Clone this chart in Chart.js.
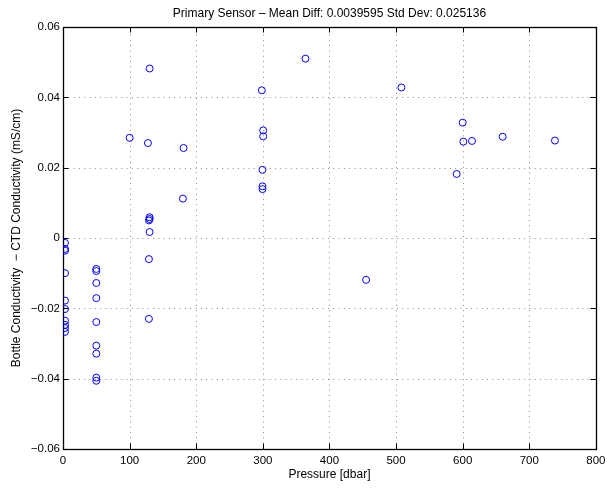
<!DOCTYPE html>
<html>
<head>
<meta charset="utf-8">
<script src="https://cdn.jsdelivr.net/npm/chart.js@4.4.0/dist/chart.umd.min.js"></script>
<style>
  html, body { margin: 0; padding: 0; background: #fff; }
  #wrap { width: 610px; height: 488px; }
</style>
</head>
<body>
<div id="wrap"><canvas id="c" width="610" height="488"></canvas></div>
<script>
// ---- data ----
const pressure = [
  3, 3, 3, 3, 3, 3, 3, 3, 3, 3,
  50, 50, 50, 50, 50, 50, 50, 50, 50,
  130, 127.5, 130, 130, 129, 130, 129, 129,
  100, 181, 180,
  298.5, 300.5, 300.5, 299.5, 299.5, 299.5,
  364, 508, 455, 600, 601, 614, 660, 738.5, 591
];
const condDiff = [
  -0.0014, -0.0031, -0.0036, -0.0100, -0.0178, -0.0202, -0.0235, -0.0247, -0.0256, -0.0267,
  -0.0088, -0.0094, -0.0128, -0.0171, -0.0239, -0.0306, -0.0329, -0.0397, -0.0406,
  0.0482, 0.0270, 0.0059, 0.0054, 0.0050, 0.0017, -0.0060, -0.0230,
  0.0285, 0.0256, 0.0112,
  0.0420, 0.0306, 0.0289, 0.0194, 0.0147, 0.0139,
  0.0510, 0.0428, -0.0119, 0.0328, 0.0274, 0.0276, 0.0288, 0.0277, 0.0182
];
const xTicks = [0, 100, 200, 300, 400, 500, 600, 700, 800];
const yTicks = [-0.06, -0.04, -0.02, 0, 0.02, 0.04, 0.06];
const titleText = 'Primary Sensor \u2013 Mean Diff: 0.0039595 Std Dev: 0.025136';
const xTitle = 'Pressure [dbar]';
const yTitle = 'Bottle Conductivity  \u2212 CTD Conductivity (mS/cm)';

const FONT = '"Liberation Sans", Arial, Helvetica, sans-serif';

const points = pressure.map((p, i) => ({ x: p, y: condDiff[i] }));

function fmtY(v) {
  const r = Number(v.toFixed(2));
  if (r === 0) return '0';
  return (r < 0 ? '\u2212' : '') + Math.abs(r).toString();
}

const framePlugin = {
  id: 'frame',
  beforeDatasetsDraw(chart) {
    const { ctx, chartArea: a, scales } = chart;
    const xs = scales.x, ys = scales.y;
    ctx.save();
    // dotted grid
    ctx.strokeStyle = '#8c8c8c';
    ctx.lineWidth = 1;
    ctx.setLineDash([1, 4.3]);
    xTicks.forEach(v => {
      if (v === xTicks[0] || v === xTicks[xTicks.length - 1]) return;
      const px = Math.round(xs.getPixelForValue(v)) + 0.5;
      ctx.beginPath(); ctx.moveTo(px, a.bottom); ctx.lineTo(px, a.top); ctx.stroke();
    });
    yTicks.forEach(v => {
      if (v === yTicks[0] || v === yTicks[yTicks.length - 1]) return;
      const py = Math.round(ys.getPixelForValue(v)) + 0.5;
      ctx.beginPath(); ctx.moveTo(a.left, py); ctx.lineTo(a.right, py); ctx.stroke();
    });
    ctx.setLineDash([]);
    // inward ticks
    const tl = 5.5;
    ctx.strokeStyle = '#000';
    ctx.lineWidth = 1;
    xTicks.forEach(v => {
      const px = Math.round(xs.getPixelForValue(v)) + 0.5;
      ctx.beginPath();
      ctx.moveTo(px, a.bottom); ctx.lineTo(px, a.bottom - tl);
      ctx.moveTo(px, a.top); ctx.lineTo(px, a.top + tl);
      ctx.stroke();
    });
    yTicks.forEach(v => {
      const py = Math.round(ys.getPixelForValue(v)) + 0.5;
      ctx.beginPath();
      ctx.moveTo(a.left, py); ctx.lineTo(a.left + tl, py);
      ctx.moveTo(a.right, py); ctx.lineTo(a.right - tl, py);
      ctx.stroke();
    });
    // frame
    ctx.lineWidth = 1.3;
    ctx.strokeRect(Math.round(a.left) + 0.5, Math.round(a.top) + 0.5,
                   Math.round(a.right) - Math.round(a.left), Math.round(a.bottom) - Math.round(a.top));
    // title centred over the plot area
    ctx.fillStyle = '#000';
    ctx.font = '12px ' + FONT;
    ctx.textAlign = 'center';
    ctx.textBaseline = 'middle';
    ctx.fillText(titleText, (a.left + a.right) / 2, 14);
    ctx.restore();
  }
};

new Chart(document.getElementById('c'), {
  type: 'scatter',
  data: {
    datasets: [{
      data: points,
      pointStyle: 'circle',
      pointRadius: 3.5,
      pointHoverRadius: 3.5,
      pointBorderWidth: 1,
      pointBorderColor: '#0000ff',
      pointBackgroundColor: 'rgba(0,0,0,0)',
      showLine: false
    }]
  },
  options: {
    responsive: false,
    animation: false,
    events: [],
    layout: { padding: { top: 27, right: 12, left: 0, bottom: 0 } },
    plugins: { legend: { display: false }, title: { display: false }, tooltip: { enabled: false } },
    scales: {
      x: {
        type: 'linear',
        min: 0, max: 800,
        afterBuildTicks: s => { s.ticks = xTicks.map(v => ({ value: v })); },
        afterFit: s => { s.height = 39; },
        grid: { display: false, drawTicks: false },
        border: { display: false },
        ticks: {
          color: '#000', padding: 4.5, maxRotation: 0, autoSkip: false,
          font: { family: FONT, size: 11.5 },
          callback: v => String(v)
        },
        title: {
          display: true, text: xTitle, color: '#000',
          font: { family: FONT, size: 12 },
          padding: { top: 0, bottom: 5.8 }
        }
      },
      y: {
        type: 'linear',
        min: -0.06, max: 0.06,
        afterBuildTicks: s => { s.ticks = yTicks.map(v => ({ value: v })); },
        afterFit: s => { s.width = 63; },
        grid: { display: false, drawTicks: false },
        border: { display: false },
        ticks: {
          color: '#000', padding: 3, autoSkip: false,
          font: { family: FONT, size: 11.5 },
          callback: v => fmtY(v)
        },
        title: {
          display: true, text: yTitle, color: '#000',
          font: { family: FONT, size: 12 },
          padding: { top: 9.8, bottom: 0 }
        }
      }
    }
  },
  plugins: [framePlugin]
});
</script>
</body>
</html>
